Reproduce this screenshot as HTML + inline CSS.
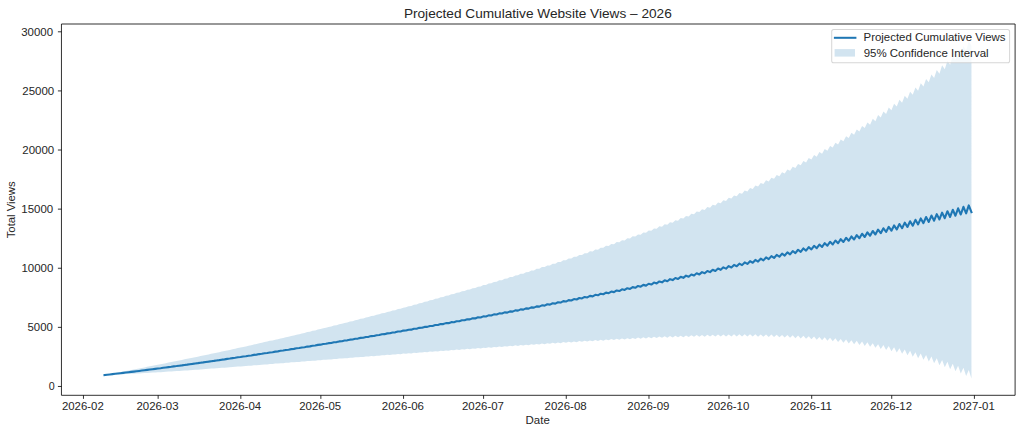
<!DOCTYPE html><html><head><meta charset="utf-8"><title>Projected Cumulative Website Views – 2026</title><style>html,body{margin:0;padding:0;background:#fff;width:1022px;height:434px;overflow:hidden}svg{display:block}text{font-family:"Liberation Sans",sans-serif;fill:#262626}</style></head><body>
<svg width="1022" height="434" viewBox="0 0 1022 434">
<rect width="1022" height="434" fill="#fff"/>
<path d="M104.50,375.06 107.17,374.56 109.83,374.06 112.50,373.55 115.17,373.04 117.84,372.54 120.50,372.03 123.17,371.52 125.84,371.01 128.51,370.50 131.17,369.98 133.84,369.47 136.51,368.95 139.18,368.44 141.84,367.91 144.51,367.40 147.18,366.86 149.85,366.36 152.51,365.81 155.18,365.31 157.85,364.76 160.52,364.25 163.18,363.69 165.85,363.19 168.52,362.62 171.19,362.12 173.85,361.55 176.52,361.05 179.19,360.47 181.86,359.96 184.52,359.37 187.19,358.87 189.86,358.28 192.53,357.78 195.19,357.17 197.86,356.67 200.53,356.06 203.20,355.56 205.86,354.94 208.53,354.44 211.20,353.81 213.87,353.32 216.53,352.68 219.20,352.18 221.87,351.53 224.54,351.04 227.21,350.38 229.87,349.89 232.54,349.22 235.21,348.73 237.88,348.05 240.54,347.57 243.21,346.88 245.88,346.39 248.55,345.69 251.21,345.21 253.88,344.50 256.55,344.02 259.22,343.30 261.88,342.82 264.55,342.09 267.22,341.62 269.89,340.87 272.55,340.40 275.22,339.65 277.89,339.18 280.56,338.41 283.22,337.95 285.89,337.17 288.56,336.71 291.23,335.92 293.89,335.46 296.56,334.66 299.23,334.20 301.90,333.39 304.56,332.94 307.23,332.11 309.90,331.67 312.57,330.83 315.23,330.38 317.90,329.53 320.57,329.09 323.24,328.23 325.90,327.80 328.57,326.92 331.24,326.49 333.91,325.60 336.57,325.17 339.24,324.27 341.91,323.85 344.58,322.93 347.25,322.52 349.91,321.58 352.58,321.18 355.25,320.23 357.92,319.83 360.58,318.87 363.25,318.47 365.92,317.49 368.59,317.11 371.25,316.11 373.92,315.73 376.59,314.72 379.26,314.35 381.92,313.33 384.59,312.96 387.26,311.92 389.93,311.56 392.59,310.50 395.26,310.16 397.93,309.08 400.60,308.74 403.26,307.65 405.93,307.31 408.60,306.21 411.27,305.88 413.93,304.75 416.60,304.44 419.27,303.30 421.94,302.99 424.60,301.83 427.27,301.53 429.94,300.35 432.61,300.06 435.27,298.86 437.94,298.59 440.61,297.37 443.28,297.10 445.94,295.86 448.61,295.61 451.28,294.35 453.95,294.11 456.61,292.83 459.28,292.59 461.95,291.30 464.62,291.07 467.28,289.75 469.95,289.54 472.62,288.20 475.29,288.00 477.96,286.64 480.62,286.45 483.29,285.07 485.96,284.90 488.63,283.49 491.29,283.33 493.96,281.90 496.63,281.75 499.30,280.30 501.96,280.16 504.63,278.69 507.30,278.57 509.97,277.07 512.63,276.96 515.30,275.43 517.97,275.34 520.64,273.79 523.30,273.71 525.97,272.14 528.64,272.07 531.31,270.47 533.97,270.42 536.64,268.80 539.31,268.76 541.98,267.11 544.64,267.09 547.31,265.41 549.98,265.40 552.65,263.70 555.31,263.71 557.98,261.97 560.65,262.00 563.32,260.23 565.98,260.28 568.65,258.48 571.32,258.54 573.99,256.72 576.65,256.80 579.32,254.94 581.99,255.04 584.66,253.15 587.32,253.26 589.99,251.34 592.66,251.47 595.33,249.52 597.99,249.67 600.66,247.69 603.33,247.86 606.00,245.84 608.67,246.02 611.33,243.97 614.00,244.18 616.67,242.08 619.34,242.31 622.00,240.18 624.67,240.43 627.34,238.27 630.01,238.54 632.67,236.33 635.34,236.62 638.01,234.38 640.68,234.69 643.34,232.41 646.01,232.74 648.68,230.41 651.35,230.77 654.01,228.40 656.68,228.78 659.35,226.37 662.02,226.78 664.68,224.32 667.35,224.75 670.02,222.24 672.69,222.70 675.35,220.14 678.02,220.63 680.69,218.02 683.36,218.53 686.02,215.88 688.69,216.42 691.36,213.71 694.03,214.28 696.69,211.52 699.36,212.11 702.03,209.30 704.70,209.92 707.36,207.05 710.03,207.71 712.70,204.78 715.37,205.46 718.03,202.48 720.70,203.19 723.37,200.15 726.04,200.90 728.71,197.79 731.37,198.57 734.04,195.39 736.71,196.21 739.38,192.97 742.04,193.83 744.71,190.51 747.38,191.41 750.05,188.02 752.71,188.96 755.38,185.50 758.05,186.47 760.72,182.94 763.38,183.95 766.05,180.34 768.72,181.40 771.39,177.71 774.05,178.81 776.72,175.03 779.39,176.18 782.06,172.32 784.72,173.51 787.39,169.56 790.06,170.81 792.73,166.76 795.39,168.06 798.06,163.92 800.73,165.27 803.40,161.03 806.06,162.44 808.73,158.10 811.40,159.56 814.07,155.12 816.73,156.64 819.40,152.09 822.07,153.67 824.74,149.01 827.40,150.66 830.07,145.88 832.74,147.59 835.41,142.69 838.07,144.47 840.74,139.46 843.41,141.31 846.08,136.16 848.74,138.09 851.41,132.81 854.08,134.81 856.75,129.40 859.42,131.48 862.08,125.92 864.75,128.09 867.42,122.39 870.09,124.64 872.75,118.79 875.42,121.14 878.09,115.12 880.76,117.57 883.42,111.39 886.09,113.93 888.76,107.59 891.43,110.23 894.09,103.72 896.76,106.47 899.43,99.77 902.10,102.63 904.76,95.75 907.43,98.73 910.10,91.65 912.77,94.75 915.43,87.47 918.10,90.70 920.77,83.22 923.44,86.58 926.10,78.88 928.77,82.37 931.44,74.45 934.11,78.09 936.77,69.94 939.44,73.73 942.11,65.34 944.78,69.28 947.44,60.64 950.11,64.75 952.78,55.86 955.45,60.14 958.11,50.97 960.78,55.43 963.45,45.99 966.12,50.63 968.78,40.91 971.45,45.74 L971.45,378.41 968.78,369.88 966.12,375.96 963.45,367.72 960.78,373.61 958.11,365.65 955.45,371.36 952.78,363.67 950.11,369.21 947.44,361.79 944.78,367.16 942.11,359.98 939.44,365.19 936.77,358.26 934.11,363.32 931.44,356.62 928.77,361.53 926.10,355.06 923.44,359.82 920.77,353.57 918.10,358.20 915.43,352.15 912.77,356.65 910.10,350.81 907.43,355.18 904.76,349.54 902.10,353.79 899.43,348.33 896.76,352.46 894.09,347.19 891.43,351.21 888.76,346.11 886.09,350.02 883.42,345.09 880.76,348.90 878.09,344.13 875.42,347.84 872.75,343.22 870.09,346.84 867.42,342.37 864.75,345.90 862.08,341.58 859.42,345.01 856.75,340.83 854.08,344.18 851.41,340.14 848.74,343.41 846.08,339.49 843.41,342.68 840.74,338.89 838.07,342.00 835.41,338.34 832.74,341.37 830.07,337.82 827.40,340.79 824.74,337.35 822.07,340.25 819.40,336.92 816.73,339.75 814.07,336.53 811.40,339.29 808.73,336.17 806.06,338.87 803.40,335.85 800.73,338.49 798.06,335.57 795.39,338.15 792.73,335.32 790.06,337.84 787.39,335.09 784.72,337.56 782.06,334.90 779.39,337.32 776.72,334.74 774.05,337.11 771.39,334.61 768.72,336.92 766.05,334.50 763.38,336.77 760.72,334.42 758.05,336.64 755.38,334.37 752.71,336.54 750.05,334.34 747.38,336.47 744.71,334.33 742.04,336.41 739.38,334.34 736.71,336.38 734.04,334.37 731.37,336.38 728.71,334.43 726.04,336.39 723.37,334.50 720.70,336.42 718.03,334.59 715.37,336.47 712.70,334.70 710.03,336.54 707.36,334.82 704.70,336.63 702.03,334.96 699.36,336.74 696.69,335.11 694.03,336.86 691.36,335.28 688.69,336.99 686.02,335.46 683.36,337.14 680.69,335.66 678.02,337.30 675.35,335.87 672.69,337.48 670.02,336.08 667.35,337.66 664.68,336.31 662.02,337.86 659.35,336.55 656.68,338.07 654.01,336.80 651.35,338.29 648.68,337.06 646.01,338.52 643.34,337.32 640.68,338.76 638.01,337.60 635.34,339.01 632.67,337.88 630.01,339.26 627.34,338.17 624.67,339.53 622.00,338.47 619.34,339.80 616.67,338.77 614.00,340.07 611.33,339.08 608.67,340.36 606.00,339.40 603.33,340.65 600.66,339.72 597.99,340.95 595.33,340.04 592.66,341.25 589.99,340.38 587.32,341.56 584.66,340.71 581.99,341.87 579.32,341.05 576.65,342.19 573.99,341.39 571.32,342.51 568.65,341.74 565.98,342.83 563.32,342.09 560.65,343.16 557.98,342.44 555.31,343.49 552.65,342.80 549.98,343.83 547.31,343.16 544.64,344.17 541.98,343.52 539.31,344.51 536.64,343.89 533.97,344.86 531.31,344.26 528.64,345.21 525.97,344.63 523.30,345.56 520.64,345.00 517.97,345.91 515.30,345.37 512.63,346.27 509.97,345.75 507.30,346.62 504.63,346.13 501.96,346.99 499.30,346.51 496.63,347.35 493.96,346.89 491.29,347.71 488.63,347.27 485.96,348.08 483.29,347.66 480.62,348.45 477.96,348.04 475.29,348.82 472.62,348.43 469.95,349.19 467.28,348.82 464.62,349.56 461.95,349.21 459.28,349.94 456.61,349.60 453.95,350.32 451.28,350.00 448.61,350.69 445.94,350.39 443.28,351.08 440.61,350.79 437.94,351.46 435.27,351.19 432.61,351.84 429.94,351.59 427.27,352.23 424.60,351.99 421.94,352.61 419.27,352.39 416.60,353.00 413.93,352.79 411.27,353.39 408.60,353.19 405.93,353.78 403.26,353.60 400.60,354.18 397.93,354.01 395.26,354.57 392.59,354.41 389.93,354.97 387.26,354.82 384.59,355.36 381.92,355.23 379.26,355.76 376.59,355.64 373.92,356.16 371.25,356.06 368.59,356.57 365.92,356.47 363.25,356.97 360.58,356.88 357.92,357.37 355.25,357.30 352.58,357.78 349.91,357.72 347.25,358.19 344.58,358.13 341.91,358.59 339.24,358.55 336.57,359.00 333.91,358.97 331.24,359.41 328.57,359.39 325.90,359.83 323.24,359.82 320.57,360.24 317.90,360.24 315.23,360.65 312.57,360.66 309.90,361.07 307.23,361.08 304.56,361.48 301.90,361.51 299.23,361.90 296.56,361.93 293.89,362.31 291.23,362.35 288.56,362.73 285.89,362.78 283.22,363.14 280.56,363.20 277.89,363.56 275.22,363.62 272.55,363.98 269.89,364.05 267.22,364.39 264.55,364.47 261.88,364.80 259.22,364.89 256.55,365.22 253.88,365.31 251.21,365.63 248.55,365.73 245.88,366.04 243.21,366.14 240.54,366.45 237.88,366.56 235.21,366.86 232.54,366.97 229.87,367.26 227.21,367.38 224.54,367.67 221.87,367.79 219.20,368.07 216.53,368.19 213.87,368.46 211.20,368.59 208.53,368.85 205.86,368.99 203.20,369.24 200.53,369.38 197.86,369.63 195.19,369.76 192.53,370.01 189.86,370.14 187.19,370.38 184.52,370.52 181.86,370.75 179.19,370.89 176.52,371.11 173.85,371.25 171.19,371.46 168.52,371.61 165.85,371.81 163.18,371.95 160.52,372.15 157.85,372.29 155.18,372.48 152.51,372.62 149.85,372.80 147.18,372.94 144.51,373.12 141.84,373.25 139.18,373.42 136.51,373.55 133.84,373.71 131.17,373.84 128.51,373.98 125.84,374.11 123.17,374.25 120.50,374.37 117.84,374.50 115.17,374.62 112.50,374.74 109.83,374.85 107.17,374.96 104.50,375.06 Z" fill="#1f77b4" fill-opacity="0.2" stroke="none"/>
<polyline points="104.50,375.06 107.17,374.76 109.83,374.45 112.50,374.15 115.17,373.83 117.84,373.52 120.50,373.20 123.17,372.89 125.84,372.56 128.51,372.24 131.17,371.91 133.84,371.59 136.51,371.25 139.18,370.93 141.84,370.58 144.51,370.26 147.18,369.90 149.85,369.58 152.51,369.22 155.18,368.90 157.85,368.52 160.52,368.20 163.18,367.82 165.85,367.50 168.52,367.12 171.19,366.79 173.85,366.40 176.52,366.08 179.19,365.68 181.86,365.36 184.52,364.95 187.19,364.63 189.86,364.21 192.53,363.89 195.19,363.47 197.86,363.15 200.53,362.72 203.20,362.40 205.86,361.96 208.53,361.65 211.20,361.20 213.87,360.89 216.53,360.43 219.20,360.12 221.87,359.66 224.54,359.35 227.21,358.88 229.87,358.58 232.54,358.10 235.21,357.80 237.88,357.31 240.54,357.01 243.21,356.51 245.88,356.22 248.55,355.71 251.21,355.42 253.88,354.90 256.55,354.62 259.22,354.09 261.88,353.81 264.55,353.28 267.22,353.00 269.89,352.46 272.55,352.19 275.22,351.64 277.89,351.37 280.56,350.81 283.22,350.55 285.89,349.97 288.56,349.72 291.23,349.14 293.89,348.89 296.56,348.29 299.23,348.05 301.90,347.45 304.56,347.21 307.23,346.60 309.90,346.37 312.57,345.74 315.23,345.52 317.90,344.88 320.57,344.67 323.24,344.02 325.90,343.81 328.57,343.16 331.24,342.95 333.91,342.29 336.57,342.09 339.24,341.41 341.91,341.22 344.58,340.53 347.25,340.35 349.91,339.65 352.58,339.48 355.25,338.77 357.92,338.60 360.58,337.88 363.25,337.72 365.92,336.98 368.59,336.84 371.25,336.08 373.92,335.95 376.59,335.18 379.26,335.06 381.92,334.28 384.59,334.16 387.26,333.37 389.93,333.26 392.59,332.46 395.26,332.36 397.93,331.54 400.60,331.46 403.26,330.62 405.93,330.55 408.60,329.70 411.27,329.64 413.93,328.77 416.60,328.72 419.27,327.84 421.94,327.80 424.60,326.91 427.27,326.88 429.94,325.97 432.61,325.95 435.27,325.02 437.94,325.02 440.61,324.08 443.28,324.09 445.94,323.13 448.61,323.15 451.28,322.17 453.95,322.21 456.61,321.22 459.28,321.27 461.95,320.25 464.62,320.32 467.28,319.29 469.95,319.37 472.62,318.32 475.29,318.41 477.96,317.34 480.62,317.45 483.29,316.36 485.96,316.49 488.63,315.38 491.29,315.52 493.96,314.39 496.63,314.55 499.30,313.40 501.96,313.57 504.63,312.41 507.30,312.59 509.97,311.41 512.63,311.61 515.30,310.40 517.97,310.62 520.64,309.40 523.30,309.63 525.97,308.38 528.64,308.64 531.31,307.36 533.97,307.64 536.64,306.34 539.31,306.64 541.98,305.32 544.64,305.63 547.31,304.28 549.98,304.62 552.65,303.25 555.31,303.60 557.98,302.21 560.65,302.58 563.32,301.16 565.98,301.55 568.65,300.11 571.32,300.52 573.99,299.06 576.65,299.49 579.32,298.00 581.99,298.45 584.66,296.93 587.32,297.41 589.99,295.86 592.66,296.36 595.33,294.78 597.99,295.31 600.66,293.70 603.33,294.25 606.00,292.62 608.67,293.19 611.33,291.53 614.00,292.13 616.67,290.43 619.34,291.06 622.00,289.33 624.67,289.98 627.34,288.22 630.01,288.90 632.67,287.11 635.34,287.81 638.01,285.99 640.68,286.73 643.34,284.87 646.01,285.63 648.68,283.74 651.35,284.53 654.01,282.60 656.68,283.43 659.35,281.46 662.02,282.32 664.68,280.31 667.35,281.21 670.02,279.16 672.69,280.09 675.35,278.00 678.02,278.96 680.69,276.84 683.36,277.84 686.02,275.67 688.69,276.70 691.36,274.50 694.03,275.57 696.69,273.32 699.36,274.42 702.03,272.13 704.70,273.28 707.36,270.94 710.03,272.13 712.70,269.74 715.37,270.97 718.03,268.53 720.70,269.81 723.37,267.32 726.04,268.64 728.71,266.11 731.37,267.47 734.04,264.88 736.71,266.30 739.38,263.66 742.04,265.12 744.71,262.42 747.38,263.94 750.05,261.18 752.71,262.75 755.38,259.93 758.05,261.56 760.72,258.68 763.38,260.36 766.05,257.42 768.72,259.16 771.39,256.16 774.05,257.96 776.72,254.89 779.39,256.75 782.06,253.61 784.72,255.54 787.39,252.33 790.06,254.32 792.73,251.04 795.39,253.10 798.06,249.74 800.73,251.88 803.40,248.44 806.06,250.66 808.73,247.14 811.40,249.43 814.07,245.82 816.73,248.19 819.40,244.51 822.07,246.96 824.74,243.18 827.40,245.72 830.07,241.85 832.74,244.48 835.41,240.52 838.07,243.24 840.74,239.17 843.41,241.99 846.08,237.83 848.74,240.75 851.41,236.47 854.08,239.50 856.75,235.11 859.42,238.25 862.08,233.75 864.75,236.99 867.42,232.38 870.09,235.74 872.75,231.01 875.42,234.49 878.09,229.62 880.76,233.23 883.42,228.24 886.09,231.98 888.76,226.85 891.43,230.72 894.09,225.45 896.76,229.47 899.43,224.05 902.10,228.21 904.76,222.64 907.43,226.96 910.10,221.23 912.77,225.70 915.43,219.81 918.10,224.45 920.77,218.39 923.44,223.20 926.10,216.97 928.77,221.95 931.44,215.53 934.11,220.70 936.77,214.10 939.44,219.46 942.11,212.66 944.78,218.22 947.44,211.21 950.11,216.98 952.78,209.76 955.45,215.75 958.11,208.31 960.78,214.52 963.45,206.85 966.12,213.29 968.78,205.39 971.45,212.08" fill="none" stroke="#1f77b4" stroke-width="2.1" stroke-linejoin="round" stroke-linecap="square"/>
<path d="M61.45,395.30 V24.00 H1015.10 V395.30 Z" fill="none" stroke="#000" stroke-width="0.81" stroke-linejoin="miter"/>
<text x="61.92" y="409.95" font-size="10.58" textLength="41.88" lengthAdjust="spacingAndGlyphs">2026-02</text>
<text x="136.51" y="409.95" font-size="10.58" textLength="42.01" lengthAdjust="spacingAndGlyphs">2026-03</text>
<text x="219.08" y="409.95" font-size="10.58" textLength="42.09" lengthAdjust="spacingAndGlyphs">2026-04</text>
<text x="299.27" y="409.95" font-size="10.58" textLength="41.91" lengthAdjust="spacingAndGlyphs">2026-05</text>
<text x="381.83" y="409.95" font-size="10.58" textLength="42.19" lengthAdjust="spacingAndGlyphs">2026-06</text>
<text x="461.97" y="409.95" font-size="10.58" textLength="42.03" lengthAdjust="spacingAndGlyphs">2026-07</text>
<text x="544.58" y="409.95" font-size="10.58" textLength="42.13" lengthAdjust="spacingAndGlyphs">2026-08</text>
<text x="627.28" y="409.95" font-size="10.58" textLength="42.15" lengthAdjust="spacingAndGlyphs">2026-09</text>
<text x="707.29" y="409.95" font-size="10.58" textLength="42.10" lengthAdjust="spacingAndGlyphs">2026-10</text>
<text x="790.12" y="409.95" font-size="10.58" textLength="41.94" lengthAdjust="spacingAndGlyphs">2026-11</text>
<text x="870.19" y="409.95" font-size="10.58" textLength="41.88" lengthAdjust="spacingAndGlyphs">2026-12</text>
<text x="952.84" y="409.95" font-size="10.58" textLength="41.94" lengthAdjust="spacingAndGlyphs">2027-01</text>
<text x="48.76" y="390.36" font-size="10.58" textLength="5.96" lengthAdjust="spacingAndGlyphs">0</text>
<text x="27.52" y="331.25" font-size="10.58" textLength="25.32" lengthAdjust="spacingAndGlyphs">5000</text>
<text x="21.42" y="272.14" font-size="10.58" textLength="31.88" lengthAdjust="spacingAndGlyphs">10000</text>
<text x="21.37" y="213.03" font-size="10.58" textLength="31.88" lengthAdjust="spacingAndGlyphs">15000</text>
<text x="22.29" y="153.92" font-size="10.58" textLength="31.96" lengthAdjust="spacingAndGlyphs">20000</text>
<text x="22.29" y="94.81" font-size="10.58" textLength="31.96" lengthAdjust="spacingAndGlyphs">25000</text>
<text x="21.26" y="35.70" font-size="10.58" textLength="31.78" lengthAdjust="spacingAndGlyphs">30000</text>
<path d="M83.46,395.30v3.55 M158.15,395.30v3.55 M240.84,395.30v3.55 M320.87,395.30v3.55 M403.56,395.30v3.55 M483.59,395.30v3.55 M566.28,395.30v3.55 M648.98,395.30v3.55 M729.01,395.30v3.55 M811.70,395.30v3.55 M891.73,395.30v3.55 M974.42,395.30v3.55 M61.45,386.46h-3.55 M61.45,327.35h-3.55 M61.45,268.24h-3.55 M61.45,209.13h-3.55 M61.45,150.02h-3.55 M61.45,90.91h-3.55 M61.45,31.80h-3.55" stroke="#000" stroke-width="0.81" fill="none"/>
<text x="525.58" y="424.00" font-size="10.58" textLength="24.22" lengthAdjust="spacingAndGlyphs">Date</text>

<text transform="translate(15.30,209.90) rotate(-90)" x="-28.40" y="0" font-size="10.58" textLength="56.95" lengthAdjust="spacingAndGlyphs">Total Views</text>
<text x="403.90" y="17.60" font-size="13.40" textLength="267.88" lengthAdjust="spacingAndGlyphs">Projected Cumulative Website Views – 2026</text>
<rect x="831.7" y="29.5" width="177.9" height="33.2" rx="2.03" ry="2.03" fill="#fff" fill-opacity="0.8" stroke="#ccc" stroke-opacity="0.8" stroke-width="1.01"/>
<path d="M834.9,37.8 H855.4" stroke="#1f77b4" stroke-width="2.03" stroke-linecap="square"/>
<rect x="834.6" y="49.1" width="20.4" height="7.5" fill="#1f77b4" fill-opacity="0.2"/>
<text x="863.56" y="41.00" font-size="10.58" textLength="141.93" lengthAdjust="spacingAndGlyphs">Projected Cumulative Views</text>
<text x="863.66" y="56.90" font-size="10.58" textLength="124.91" lengthAdjust="spacingAndGlyphs">95% Confidence Interval</text>
</svg></body></html>
